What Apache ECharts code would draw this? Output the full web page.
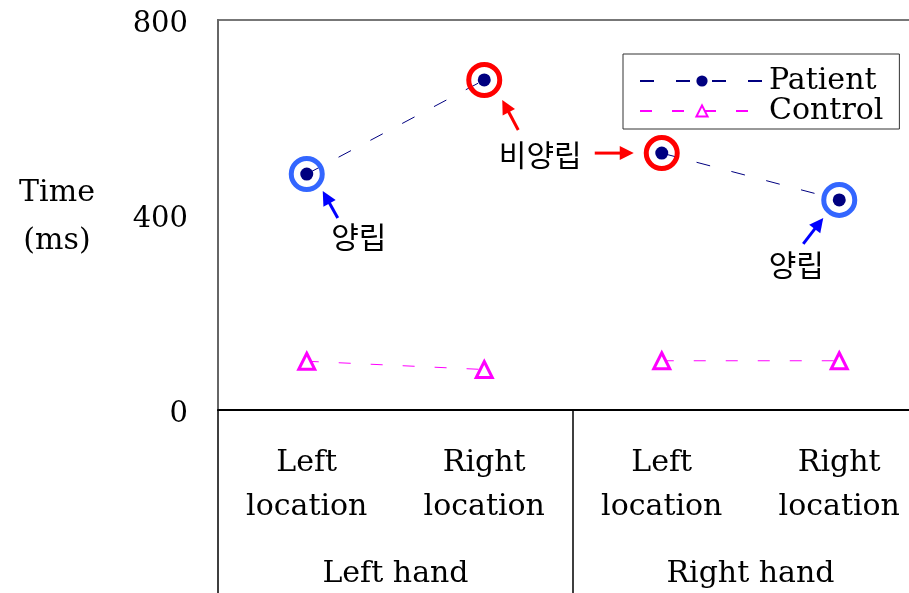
<!DOCTYPE html>
<html><head><meta charset="utf-8">
<script src="https://cdn.jsdelivr.net/npm/echarts@6/dist/echarts.min.js"></script>
<style>html,body{margin:0;padding:0;background:#fff;overflow:hidden}#c{width:931px;height:593px}</style>
</head><body><div id="c"></div>
<script>
// ---- data ----
const locations = ['Left\nlocation', 'Right\nlocation', 'Left\nlocation', 'Right\nlocation'];
const hands = ['Left hand', 'Right hand'];
const patient = [484, 677, 527, 431];
const control = [100, 83, 101, 101];
const yTicks = [0, 400, 800];
const pointKinds = ['양립', '비양립', '비양립', '양립'];

// ---- styles ----
const SERIF = 'DejaVu Serif';
const KR = 'Noto Sans CJK KR';
const BLUE_RING = '#3366ff', RED = '#ff0000', BLUE = '#0000ff';
// annotation arrows, offsets in px relative to the patient point
const arrows = [
  {idx: 0, tail: [31, 44], tip: [16, 17], color: BLUE, label: '양립', lab: [52, 63]},
  {idx: 1, tail: [34, 50], tip: [18, 20], color: RED, label: '비양립', lab: [56, 75]},
  {idx: 2, tail: [-67, 0], tip: [-28, 0], color: RED},
  {idx: 3, tail: [-36, 44], tip: [-16, 18], color: BLUE, label: '양립', lab: [-43, 65]}
];
// the lines are drawn per hand (no line across the two hands)
const half = (arr, h) => arr.map((v, i) => (Math.floor(i / 2) === h ? v : '-'));

const chart = echarts.init(document.getElementById('c'));
const patientStyle = {
  name: 'Patient', type: 'line', z: 4,
  symbol: 'circle', symbolSize: 13,
  itemStyle: {color: '#000080'},
  lineStyle: {color: '#000080', width: 1, type: [14, 22]}
};
const controlStyle = {
  name: 'Control', type: 'line', z: 4,
  symbol: 'triangle', symbolSize: 16,
  itemStyle: {color: '#fff', borderColor: '#ff00ff', borderWidth: 3},
  lineStyle: {color: '#ff00ff', width: 1, type: [12, 20]}
};
const option = {
  backgroundColor: '#fff',
  animation: false,
  title: {
    text: 'Time\n(ms)', left: 52, top: 164, textAlign: 'center',
    textStyle: {fontFamily: SERIF, fontSize: 30, fontWeight: 'normal', color: '#000', lineHeight: 48}
  },
  legend: {
    orient: 'vertical', left: 623, top: 54,
    data: ['Patient', 'Control'],
    itemWidth: 124, itemHeight: 14, itemGap: 0,
    padding: [12, 16, 3, 16],
    borderColor: '#333', borderWidth: 1,
    textStyle: {fontFamily: SERIF, fontSize: 30, color: '#000', lineHeight: 30}
  },
  grid: {left: 218, top: 20, right: 3, height: 390, show: true, borderColor: '#777', borderWidth: 2},
  xAxis: [
    {
      type: 'category', data: locations, position: 'bottom',
      axisLine: {lineStyle: {color: '#000', width: 2}},
      axisTick: {show: false},
      axisLabel: {interval: 0, margin: 31, fontFamily: SERIF, fontSize: 30, color: '#000', lineHeight: 44}
    },
    {
      type: 'category', data: hands, position: 'bottom',
      axisLine: {show: false},
      axisTick: {show: true, interval: 0, length: 183, lineStyle: {color: '#000', width: 1.5}},
      axisLabel: {interval: 0, margin: 149, fontFamily: SERIF, fontSize: 30, color: '#000'}
    }
  ],
  yAxis: {
    type: 'value', min: yTicks[0], max: yTicks[yTicks.length - 1], interval: yTicks[1] - yTicks[0],
    axisLine: {show: true, lineStyle: {color: '#666', width: 2}},
    axisTick: {show: false}, splitLine: {show: false},
    axisLabel: {margin: 30, fontFamily: SERIF, fontSize: 29, color: '#000', verticalAlign: 'top', lineHeight: 8}
  },
  series: [
    Object.assign({data: half(patient, 0)}, patientStyle),
    Object.assign({data: half(patient, 1)}, patientStyle),
    Object.assign({data: half(control, 0)}, controlStyle),
    Object.assign({data: half(control, 1)}, controlStyle),
    {
      name: 'rings', type: 'scatter', z: 5, silent: true,
      symbol: 'circle', symbolSize: 31,
      data: patient.map((v, i) => ({
        value: v,
        itemStyle: {color: 'rgba(0,0,0,0)', opacity: 1, borderWidth: 5,
          borderColor: pointKinds[i] === '양립' ? BLUE_RING : RED}
      }))
    }
  ]
};
chart.setOption(option);

function buildGraphics() {
  const els = [];
  arrows.forEach(a => {
    const p = chart.convertToPixel({xAxisIndex: 0, yAxisIndex: 0}, [a.idx, patient[a.idx]]);
    const tx = p[0] + a.tail[0], ty = p[1] + a.tail[1];
    const hx = p[0] + a.tip[0], hy = p[1] + a.tip[1];
    const dx = hx - tx, dy = hy - ty, L = Math.hypot(dx, dy);
    const ux = dx / L, uy = dy / L, nx = -uy, ny = ux;
    const hl = 14, hw = 7;
    const bx = hx - ux * hl, by = hy - uy * hl;
    els.push({type: 'line', z: 10, shape: {x1: tx, y1: ty, x2: bx + ux * 2, y2: by + uy * 2},
      style: {stroke: a.color, lineWidth: 3}});
    els.push({type: 'polygon', z: 10, shape: {points: [[hx, hy], [bx + nx * hw, by + ny * hw], [bx - nx * hw, by - ny * hw]]},
      style: {fill: a.color}});
    if (a.label) {
      els.push({type: 'text', z: 10, x: p[0] + a.lab[0], y: p[1] + a.lab[1],
        style: {text: a.label, fontFamily: KR, fontSize: 30, fill: '#000', align: 'center', verticalAlign: 'middle'}});
    }
  });
  chart.setOption({graphic: els});
}
buildGraphics();
</script>
</body></html>
